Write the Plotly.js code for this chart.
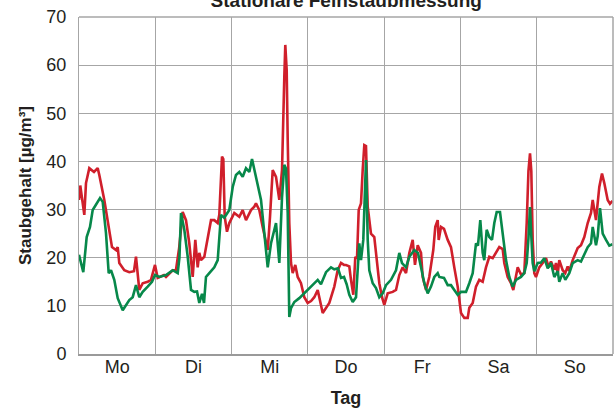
<!DOCTYPE html>
<html>
<head>
<meta charset="utf-8">
<script src="https://cdn.plot.ly/plotly-3.0.1.min.js"></script>
<style>html,body{margin:0;padding:0;background:#fff;}#chart{width:615px;height:414px;}</style>
</head>
<body>
<div id="chart"></div>
<script>
// Day labels (one per 24 hours)
const days = ["Mo", "Di", "Mi", "Do", "Fr", "Sa", "So"];
const dayCenters = [12, 36, 60, 84, 108, 132, 156];

// Red series: hour of week / dust value (µg/m³)
const redHours = [0,0.4,1.67,2.2,3.24,4.72,5.88,6.39,7.96,9.53,10.38,11.64,12.18,12.68,14.25,15.82,17.3,17.93,18.47,18.97,20.04,21.61,22.65,23.91,24.76,26.74,27.37,29.48,30.5,31.5,32.62,33.66,34.7,35.77,36.59,37.34,37.85,38.38,39.42,40.49,41.53,42.57,43.64,44.14,44.99,45.4,45.84,46.56,47.29,48.86,50.43,51.5,52.54,54.11,55.15,55.68,56.72,57.79,59.37,60.09,60.94,61.98,62.51,63.02,63.87,64.09,64.59,64.9,65.34,65.66,66.16,66.7,67.23,68.05,68.8,69.84,70.88,71.95,73,74.03,75.1,76.67,77.71,78.75,80.32,81.39,82.43,83.37,84,85.04,85.57,86.3,86.93,87.46,88,88.72,89.25,89.76,90.29,90.83,91.86,92.9,93.44,93.97,94.48,95.33,96.05,97.12,98.69,99.73,100.77,101.84,102.88,103.92,104.98,105.7,106.56,107.6,108.13,109.17,110.2,111.46,112.09,112.85,113.16,113.89,114.83,116,117.03,118.07,119.14,120.18,121.22,122.29,122.79,123.86,124.9,125.94,127,128.04,129.08,130.15,131.19,132.23,133.3,133.8,134.87,135.91,136.63,138.02,139.05,140.09,140.85,141.4,141.89,142.3,142.73,143.24,143.77,144.81,145.88,146.92,147.77,148.49,149.53,150.06,150.6,151.1,152.17,152.99,153.74,154.25,155.32,155.82,156.89,157.93,158.97,160.04,161.08,161.61,162.65,163.69,164.54,165.26,166.33,167.05,167.84];
const redValues = [32,35,28.9,35.5,38.6,37.8,38.6,37.2,32,25.8,22.2,21.6,22.2,18.9,17.4,17,17.2,20.2,17,13.3,14.7,15,15.4,18.5,15.8,16.4,16,17.4,17.4,22,29.5,27.8,23,16,23.7,18,21,19.5,20.2,24.3,27.8,27.8,27.2,28.9,41,40.5,28.5,25.4,27.2,29.3,28.5,29.9,27.8,29.9,30.6,31.3,29.9,26.4,21.6,28.5,38.2,36.8,34.7,32,38.2,46.5,57.5,64.2,59,44.5,27.2,18.9,16.8,18.5,16,14.7,11.8,10.6,11,11.8,13.3,8.5,9.6,10.6,14,17.4,18.9,18.5,18.5,18.2,15.4,12.3,20.2,19.8,29.9,31.3,38.2,43.4,43.2,30.6,25,24.3,21,17.4,14.7,11.8,10.2,12.6,12.9,13.3,16.4,18,16.8,21,23.7,18.5,22.6,21,16,13.3,16,21.6,26.4,27.8,23.7,26.4,26,23.7,22.2,18,14,8.5,7.5,7.5,9.6,10.6,14,15.4,15,18,20.2,19.9,21.2,22.2,21.8,18.9,16,14.7,13.3,18,16.5,16.8,27.2,38,41.7,38,23.7,16.8,16,18,18.9,19.9,18,19.2,17.5,18.9,16.5,19.5,17.4,16.8,18.2,17.2,19.5,20.2,22,22.6,24.3,27.2,29.3,32,27.8,34.7,37.5,35.5,32,31.2,31.8];

// Green series: hour of week / dust value (µg/m³)
const greenHours = [0,1.35,2.42,3.46,4.31,5.35,6.61,7.46,8.49,9.34,10.07,11.1,12.18,13.75,14.79,15.82,16.89,17.93,18.97,20.04,21.61,22.97,23.91,25.26,27.37,29.48,31.05,31.6,32.09,33.13,34.2,35.24,36.27,37.13,37.85,38.7,39.33,39.95,40.99,42.57,43.64,44.14,44.67,45.71,47.29,48.36,49.39,50.43,51.5,52.54,53.58,54.43,55.15,55.9,57.26,58.3,59.37,60.41,61.98,63.02,63.87,64.59,65.12,65.66,66.16,66.7,67.74,69.31,70.88,72.45,74.03,75.1,76.13,77.71,79.28,80.32,81.48,82.43,83.37,84.2,85.04,86.11,87.15,88.18,88.72,89.44,90.29,90.83,91.33,92.4,93.44,94.48,95.55,96.58,98.16,99.73,100.77,101.62,102.88,103.92,105.49,106.65,107.6,108.64,109.7,110.74,111.78,112.85,113.35,114.83,116,117.03,118.07,119.14,120.18,121.75,122.79,123.86,124.9,125.52,126.25,127,127.5,128.26,129.08,129.93,130.66,131.41,132.45,133.3,134.34,135.38,136.44,137.48,139.05,140.09,140.85,141.4,141.89,142.2,142.73,143.24,144.31,145.35,146.39,147.46,148.49,149.53,150.6,151.1,152.17,152.99,154.25,155.32,156.89,157.93,158.97,160.04,161.08,161.61,162.65,163.19,163.91,164.76,165.8,166.84,167.84];
const greenValues = [20.6,17,24.3,26.4,29.9,31,32.4,31.6,25.1,16.8,17.4,15.4,11.6,9.1,10.2,11.2,11.8,14.3,11.8,12.9,14,15,16.4,16,16.4,17.4,16.8,20,29.3,25.8,20.2,13.3,12.9,13,10.6,12.5,10.6,16,16.8,18,19.5,25,28.9,28.3,29.9,34.7,37.2,37.8,36.8,38.6,37.8,40.5,38.6,36.1,32,25.8,18,23,27.2,18.9,32.6,39.3,38.5,29.3,7.7,9.5,10.8,11.6,12.6,13.7,14.7,15.4,14.5,17,18,17.6,17.8,15.8,16,14.5,12.3,10.8,11.8,23,19.5,23.7,40.3,23.7,17.4,14.7,13.7,11.8,12.6,14.3,15.4,17.4,21,18.9,18,20.2,21.6,21,18,14.7,12.6,14,16,16.8,16,15.8,14.3,14.3,13.3,12.3,12.9,12.9,14.7,16.8,23,22.5,27.8,21,19.5,25.8,24.3,23.7,27.2,29.5,29.5,25,19.5,16,14,15.4,16,16.8,18.9,24,30.5,25.8,18.9,17.2,18.9,19,19.9,17.8,18.9,16,17.2,15,16.8,15.4,16.8,18.9,19.5,19.2,20.6,22.2,23,26.4,22.6,24.5,30.3,25,23.7,22.5,22.8];

const FONT = "Liberation Sans, Arial, sans-serif";
const gridCol = "#a6a6a6";

const data = [
  {x: redHours, y: redValues, type: "scatter", mode: "lines", name: "rot",
   line: {color: "#d01f2b", width: 2.6}, hoverinfo: "x+y"},
  {x: greenHours, y: greenValues, type: "scatter", mode: "lines", name: "grün",
   line: {color: "#07884a", width: 2.6}, hoverinfo: "x+y"}
];

const layout = {
  width: 615, height: 414,
  margin: {l: 79, r: 2, t: 17, b: 60},
  paper_bgcolor: "#fff", plot_bgcolor: "#fff",
  showlegend: false,
  font: {family: FONT, color: "#231f20"},
  title: {text: "<b>Stationäre Feinstaubmessung</b>", font: {size: 19, family: FONT, color: "#231f20"},
          x: 0.563, xref: "container", xanchor: "center", y: 0.998, yref: "container", yanchor: "middle"},
  xaxis: {
    range: [0, 168], tickmode: "array", tickvals: dayCenters, ticktext: days,
    showgrid: false, ticks: "", tickfont: {size: 18}, ticklabelstandoff: -5,
    showline: true, linecolor: "#9a9a9a", linewidth: 2,
    minor: {tick0: 0, dtick: 24, showgrid: true, gridcolor: gridCol, gridwidth: 1, ticks: ""},
    zeroline: false, fixedrange: true,
    title: {text: "<b>Tag</b>", font: {size: 18}, standoff: 16}
  },
  yaxis: {
    range: [0, 70], dtick: 10, tick0: 0, showgrid: true, gridcolor: gridCol, gridwidth: 1,
    ticks: "", tickfont: {size: 18}, ticklabelstandoff: 8,
    showline: true, linecolor: "#a6a6a6", linewidth: 1,
    zeroline: false, fixedrange: true,
    title: {text: "<b>Staubgehalt [µg/m³]</b>", font: {size: 17}, standoff: 10}
  },
  shapes: [
    {type: "line", xref: "paper", yref: "paper", x0: 0, x1: 1, y0: 1, y1: 1, line: {color: "#a6a6a6", width: 1.5}},
    {type: "line", xref: "paper", yref: "paper", x0: 1, x1: 1, y0: 0, y1: 1, line: {color: "#a6a6a6", width: 1.5}}
  ]
};

Plotly.newPlot("chart", data, layout, {displayModeBar: false, staticPlot: true});
</script>
</body>
</html>
